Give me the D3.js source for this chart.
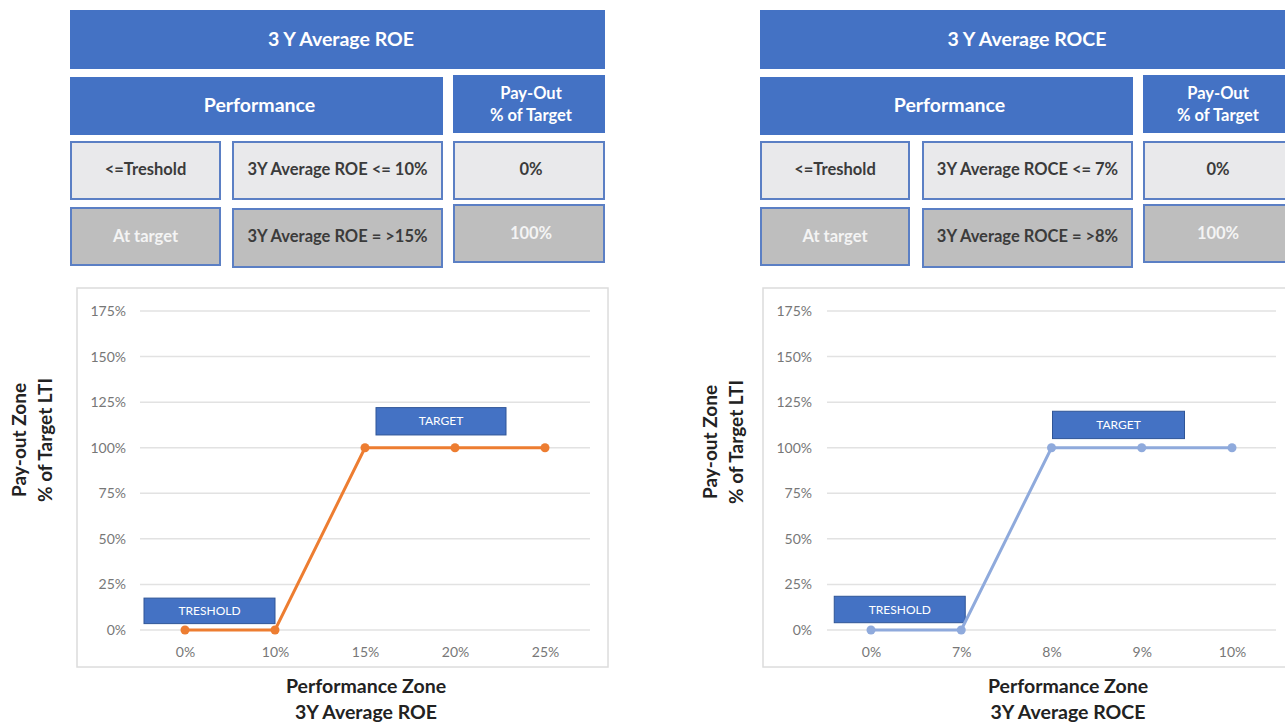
<!DOCTYPE html>
<html><head><meta charset="utf-8">
<script src="https://cdn.jsdelivr.net/npm/d3@7"></script>
<style>body{margin:0;background:#fff;overflow:hidden}svg{display:block}</style>
</head><body>
<svg id="c" width="1285" height="722"></svg>
<script>
// ---- data ----
const roeCategories = ["0%", "10%", "15%", "20%", "25%"];
const roePayout = [0, 0, 100, 100, 100];
const roceCategories = ["0%", "7%", "8%", "9%", "10%"];
const rocePayout = [0, 0, 100, 100, 100];
const yTicks = [0, 25, 50, 75, 100, 125, 150, 175];
const roeTable = {title: "3 Y Average ROE", low: "3Y Average ROE <= 10%", high: "3Y Average ROE = >15%"};
const roceTable = {title: "3 Y Average ROCE", low: "3Y Average ROCE <= 7%", high: "3Y Average ROCE = >8%"};
const rowLabels = ["<=Treshold", "At target"];
const payouts = ["0%", "100%"];
const xTitleLines = [["Performance Zone", "3Y Average ROE"], ["Performance Zone", "3Y Average ROCE"]];
const yTitleLines = ["Pay-out Zone", "% of Target LTI"];

const svg = d3.select("#c");
const FONT = "Lato, 'Open Sans', sans-serif";
const BLUE = "#4472C4";

function panel(ox, tbl, cats, vals, color, xTitle, opts) {
  const g = svg.append("g").attr("transform", `translate(${ox},0)`);
  // ---- table ----
  function box(x, y, w, h, fill, stroke) {
    g.append("rect").attr("x", x).attr("y", y).attr("width", w).attr("height", h)
      .attr("fill", fill).attr("stroke", stroke).attr("stroke-width", stroke === "none" ? 0 : 2);
  }
  function txt(x, y, s, size, col, weight) {
    g.append("text").attr("x", x).attr("y", y).attr("text-anchor", "middle")
      .attr("dominant-baseline", "middle").attr("font-family", FONT)
      .attr("font-size", size).attr("font-weight", weight || "bold").attr("fill", col).text(s);
  }
  const c1 = opts.c1, c2 = opts.c2, c3 = opts.c3;
  box(0, 10, c3[1], 59, BLUE, "none");
  txt(opts.titleX, 41, tbl.title, 19.5, "#fff");
  box(0, 77, c2[1], 58, BLUE, "none");
  txt(c2[1] / 2 + 3, 107, "Performance", 19.5, "#fff");
  box(c3[0], 75, c3[1] - c3[0], 58, BLUE, "none");
  txt(opts.payX, 95, "Pay-Out", 16.5, "#fff");
  txt(opts.payX, 117, "% of Target", 16.5, "#fff");
  const light = "#E9E9EB", dark = "#BEBEBE", bord = "#5B7FC4";
  box(c1[0] + 1, 142, c1[1] - c1[0] - 2, 57, light, bord);
  box(c2[0] + 1, 142, c2[1] - c2[0] - 2, 57, light, bord);
  box(c3[0] + 1, 142, c3[1] - c3[0] - 2, 57, light, bord);
  txt((c1[0] + c1[1]) / 2, 171, rowLabels[0], 16.5, "#3b3b3b");
  txt((c2[0] + c2[1]) / 2, 171, tbl.low, 16.5, "#3b3b3b");
  txt(opts.payX, 171, payouts[0], 16.5, "#3b3b3b");
  box(c1[0] + 1, 208, c1[1] - c1[0] - 2, 57, dark, bord);
  box(c2[0] + 1, 209, c2[1] - c2[0] - 2, 58, dark, bord);
  box(c3[0] + 1, 205, c3[1] - c3[0] - 2, 57, dark, bord);
  txt((c1[0] + c1[1]) / 2, 238, rowLabels[1], 16.5, "#f4f4f4");
  txt((c2[0] + c2[1]) / 2, 238, tbl.high, 16.5, "#3b3b3b");
  txt(opts.payX, 235, payouts[1], 16.5, "#f4f4f4");

  // ---- chart ----
  g.append("rect").attr("x", opts.bx).attr("y", 288).attr("width", 531).attr("height", 379)
    .attr("fill", "#fff").attr("stroke", "#dcdcdc").attr("stroke-width", 1.5);
  const y = d3.scaleLinear().domain([0, 175]).range([630, 311]);
  const x = d3.scalePoint().domain(cats).range([opts.x0, opts.x0 + 4 * opts.step]);
  // gridlines
  g.append("g").selectAll("line").data(yTicks).join("line")
    .attr("x1", opts.g0).attr("x2", opts.g1)
    .attr("y1", d => y(d)).attr("y2", d => y(d))
    .attr("stroke", "#e2e2e2").attr("stroke-width", 1.5);
  const yAxis = g.append("g").attr("transform", `translate(${opts.yl},0)`)
    .call(d3.axisLeft(y).tickValues(yTicks).tickFormat(d => d + "%").tickSize(0).tickPadding(0));
  yAxis.select(".domain").remove();
  yAxis.selectAll("text").attr("font-family", FONT).attr("font-size", 14).attr("fill", "#777");
  const xAxis = g.append("g").attr("transform", `translate(0,644)`)
    .call(d3.axisBottom(x).tickSize(0));
  xAxis.select(".domain").remove();
  xAxis.selectAll("text").attr("font-family", FONT).attr("font-size", 14).attr("fill", "#777");

  // annotation boxes
  opts.ann.forEach(a => {
    const ax = x(a.cat) + a.dx;
    g.append("rect").attr("x", ax).attr("y", y(a.top)).attr("width", a.w)
      .attr("height", y(a.bot) - y(a.top)).attr("fill", BLUE).attr("stroke", "#2f5597").attr("stroke-width", 1);
    g.append("text").attr("x", ax + a.w / 2).attr("y", (y(a.top) + y(a.bot)) / 2 + 1)
      .attr("text-anchor", "middle").attr("dominant-baseline", "middle")
      .attr("font-family", FONT).attr("font-size", 12).attr("fill", "#fff").text(a.label);
  });

  const pts = cats.map((c, i) => [x(c), y(vals[i])]);
  g.append("path").attr("d", d3.line()(pts)).attr("fill", "none")
    .attr("stroke", color).attr("stroke-width", 3);
  g.append("g").selectAll("circle").data(pts).join("circle")
    .attr("cx", d => d[0]).attr("cy", d => d[1]).attr("r", 4.5).attr("fill", color);

  // axis titles
  const yt = g.append("text").attr("transform", `translate(${opts.ytx},${opts.yty}) rotate(-90)`)
    .attr("text-anchor", "middle").attr("font-family", FONT).attr("font-size", 19)
    .attr("font-weight", "bold").attr("fill", "#222");
  yTitleLines.forEach((s, i) => yt.append("tspan").attr("x", 0).attr("dy", i ? 26 : 0).text(s));
  xTitle.forEach((s, i) => {
    g.append("text").attr("x", opts.xtx).attr("y", 693 + i * 26).attr("text-anchor", "middle")
      .attr("font-family", FONT).attr("font-size", 19.5).attr("font-weight", "bold")
      .attr("fill", "#222").text(s);
  });
}

panel(70, roeTable, roeCategories, roePayout, "#ED7D31", xTitleLines[0], {
  c1: [0, 151], c2: [162, 373], c3: [383, 535], titleX: 271, payX: 461,
  bx: 7, x0: 115, step: 90, g0: 70, g1: 520, yl: 56, ytx: -44, yty: 440, xtx: 296,
  ann: [{cat: roeCategories[1], dx: -131, w: 131, top: 17.5, bot: 3.5, label: "TRESHOLD"},
        {cat: roeCategories[2], dx: 11, w: 130, top: 122, bot: 107, label: "TARGET"}]
});
panel(760, roceTable, roceCategories, rocePayout, "#8FAADC", xTitleLines[1], {
  c1: [0, 150], c2: [162, 373], c3: [383, 535], titleX: 267, payX: 458,
  bx: 3, x0: 111, step: 90.25, g0: 67, g1: 516, yl: 52, ytx: -43, yty: 442, xtx: 308,
  ann: [{cat: roceCategories[1], dx: -127, w: 131, top: 18.5, bot: 4, label: "TRESHOLD"},
        {cat: roceCategories[2], dx: 1, w: 132, top: 120, bot: 105, label: "TARGET"}]
});
</script>
</body></html>
